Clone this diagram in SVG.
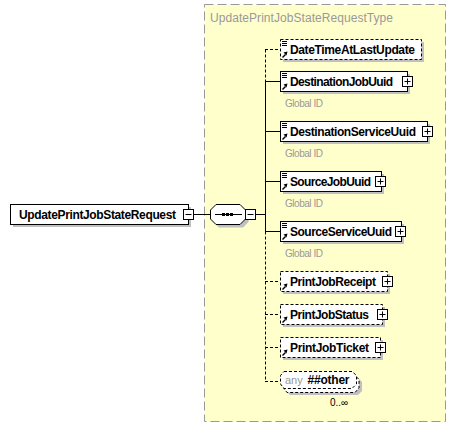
<svg xmlns="http://www.w3.org/2000/svg" width="456" height="428" viewBox="0 0 456 428">
<defs>
<style>
.box{fill:#fff;stroke:#000;stroke-width:1}
.opt{fill:#fff;stroke:#000;stroke-width:1;stroke-dasharray:3,2}
.sh{fill:#c0c0c0}
.name{font-family:"Liberation Sans",Arial,sans-serif;font-weight:bold;font-size:12px;fill:#000}
.note{font-family:"Liberation Sans",Arial,sans-serif;font-size:10px;fill:#999}
.title{font-family:"Liberation Sans",Arial,sans-serif;font-size:12px;fill:#999}
.small{font-family:"Liberation Sans",Arial,sans-serif;font-size:10px;fill:#000}
.ln{fill:none;stroke:#000;stroke-width:1}
.dl{fill:none;stroke:#000;stroke-width:1;stroke-dasharray:3,2}
</style>
<g id="plus"><rect x="0.5" y="0.5" width="10" height="10" fill="#fff" stroke="#000"/><path d="M2.5 5.5h6M5.5 2.5v6" stroke="#000" fill="none"/></g>
<g id="minus"><rect x="0.5" y="0.5" width="10" height="10" fill="#fff" stroke="#000"/><path d="M2.5 5.5h6" stroke="#000" fill="none"/></g>
<g id="doc"><path d="M2 2.5h5M2 4.5h5M2 6.5h5" stroke="#000" fill="none"/></g>
<g id="ref"><path d="M2.5 18.5L5.5 15.5" stroke="#000" stroke-width="1.5" fill="none"/><polygon points="7.5,12.5 3.5,13.5 6.5,16.5" fill="#000"/></g>
</defs>

<rect x="204.5" y="4.5" width="241" height="417" fill="#ffffcc" stroke="#999" stroke-dasharray="9,4"/>
<text class="title" x="210" y="22" textLength="183">UpdatePrintJobStateRequestType</text>

<g id="connectors">
<path class="ln" d="M193 214.5H211M256 214.5H265"/>
<path class="ln" d="M265.5 81V231.5"/>
<path class="dl" d="M265.5 49.5V81M265.5 231.5V381.5"/>
<path class="ln" d="M265 81.5H280M265 131.5H280M265 181.5H280M265 231.5H280"/>
<path class="dl" d="M265 49.5H280M265 281.5H280M265 314.5H280M265 347.5H280M265 381.5H280"/>
</g>

<g id="root">
<rect class="sh" x="13" y="207" width="178" height="20"/>
<rect class="box" x="10.5" y="204.5" width="178" height="20"/>
<text class="name" x="19" y="218.5" textLength="157">UpdatePrintJobStateRequest</text>
<use href="#minus" x="183" y="209"/>
</g>

<g id="sequence">
<polygon class="sh" points="219,207.5 243,207.5 248.5,213 248.5,222 243,227.5 219,227.5 213.5,222 213.5,213"/>
<polygon class="box" points="216,204.5 240,204.5 245.5,210 245.5,219 240,224.5 216,224.5 210.5,219 210.5,210"/>
<path class="ln" d="M215 214.5H242"/>
<rect x="222" y="213" width="3" height="3" fill="#000"/>
<rect x="226" y="213" width="3" height="3" fill="#000"/>
<rect x="230" y="213" width="3" height="3" fill="#000"/>
<use href="#minus" x="245" y="209"/>
</g>

<g id="DateTimeAtLastUpdate">
<rect class="sh" x="283" y="42" width="141" height="20"/>
<rect class="opt" x="280.5" y="39.5" width="141" height="20"/>
<use href="#doc" x="280" y="39"/>
<use href="#ref" x="280" y="39"/>
<text class="name" x="290" y="53.5" textLength="125">DateTimeAtLastUpdate</text>
</g>

<g id="DestinationJobUuid">
<rect class="sh" x="283" y="74" width="127" height="20"/>
<rect class="box" x="280.5" y="71.5" width="127" height="20"/>
<use href="#doc" x="280" y="71"/>
<use href="#ref" x="280" y="71"/>
<text class="name" x="290" y="85.5" textLength="103">DestinationJobUuid</text>
<use href="#plus" x="402" y="76"/>
<text class="note" x="285" y="107" textLength="38">Global ID</text>
</g>

<g id="DestinationServiceUuid">
<rect class="sh" x="283" y="124" width="147" height="20"/>
<rect class="box" x="280.5" y="121.5" width="147" height="20"/>
<use href="#doc" x="280" y="121"/>
<use href="#ref" x="280" y="121"/>
<text class="name" x="290" y="135.5" textLength="126">DestinationServiceUuid</text>
<use href="#plus" x="422" y="126"/>
<text class="note" x="285" y="157" textLength="38">Global ID</text>
</g>

<g id="SourceJobUuid">
<rect class="sh" x="283" y="174" width="101" height="20"/>
<rect class="box" x="280.5" y="171.5" width="101" height="20"/>
<use href="#doc" x="280" y="171"/>
<use href="#ref" x="280" y="171"/>
<text class="name" x="290" y="185.5" textLength="81">SourceJobUuid</text>
<use href="#plus" x="375" y="176"/>
<text class="note" x="285" y="207" textLength="38">Global ID</text>
</g>

<g id="SourceServiceUuid">
<rect class="sh" x="283" y="224" width="121" height="20"/>
<rect class="box" x="280.5" y="221.5" width="121" height="20"/>
<use href="#doc" x="280" y="221"/>
<use href="#ref" x="280" y="221"/>
<text class="name" x="290" y="235.5" textLength="102">SourceServiceUuid</text>
<use href="#plus" x="395" y="226"/>
<text class="note" x="285" y="257" textLength="38">Global ID</text>
</g>

<g id="PrintJobReceipt">
<rect class="sh" x="283" y="274" width="107" height="20"/>
<rect class="opt" x="280.5" y="271.5" width="107" height="20"/>
<use href="#ref" x="280" y="271"/>
<text class="name" x="290" y="285.5" textLength="86">PrintJobReceipt</text>
<use href="#plus" x="382" y="276"/>
</g>

<g id="PrintJobStatus">
<rect class="sh" x="283" y="307" width="102" height="20"/>
<rect class="opt" x="280.5" y="304.5" width="102" height="20"/>
<use href="#ref" x="280" y="304"/>
<text class="name" x="290" y="318.5" textLength="79">PrintJobStatus</text>
<use href="#plus" x="377" y="309"/>
</g>

<g id="PrintJobTicket">
<rect class="sh" x="283" y="340" width="100" height="20"/>
<rect class="opt" x="280.5" y="337.5" width="100" height="20"/>
<use href="#ref" x="280" y="337"/>
<text class="name" x="290" y="351.5" textLength="79">PrintJobTicket</text>
<use href="#plus" x="375" y="342"/>
</g>

<g id="anyOther">
<polygon class="sh" points="290,378 358,378 362,382 362,391 358,395 290,395 286,391 286,382"/>
<polygon class="opt" points="287,375.5 355,375.5 359,379.5 359,388 355,392.5 287,392.5 283.5,388 283.5,379.5"/>
<polygon class="opt" points="284,371.5 352,371.5 356.5,375.5 356.5,384 352,388.5 284,388.5 280.5,384 280.5,375.5"/>
<text x="285" y="384" font-family="Liberation Sans, Arial, sans-serif" font-size="11px" fill="#999">any</text>
<text class="name" x="307.5" y="384" textLength="42">##other</text>
<text class="small" x="330" y="406">0..∞</text>
</g>
</svg>
